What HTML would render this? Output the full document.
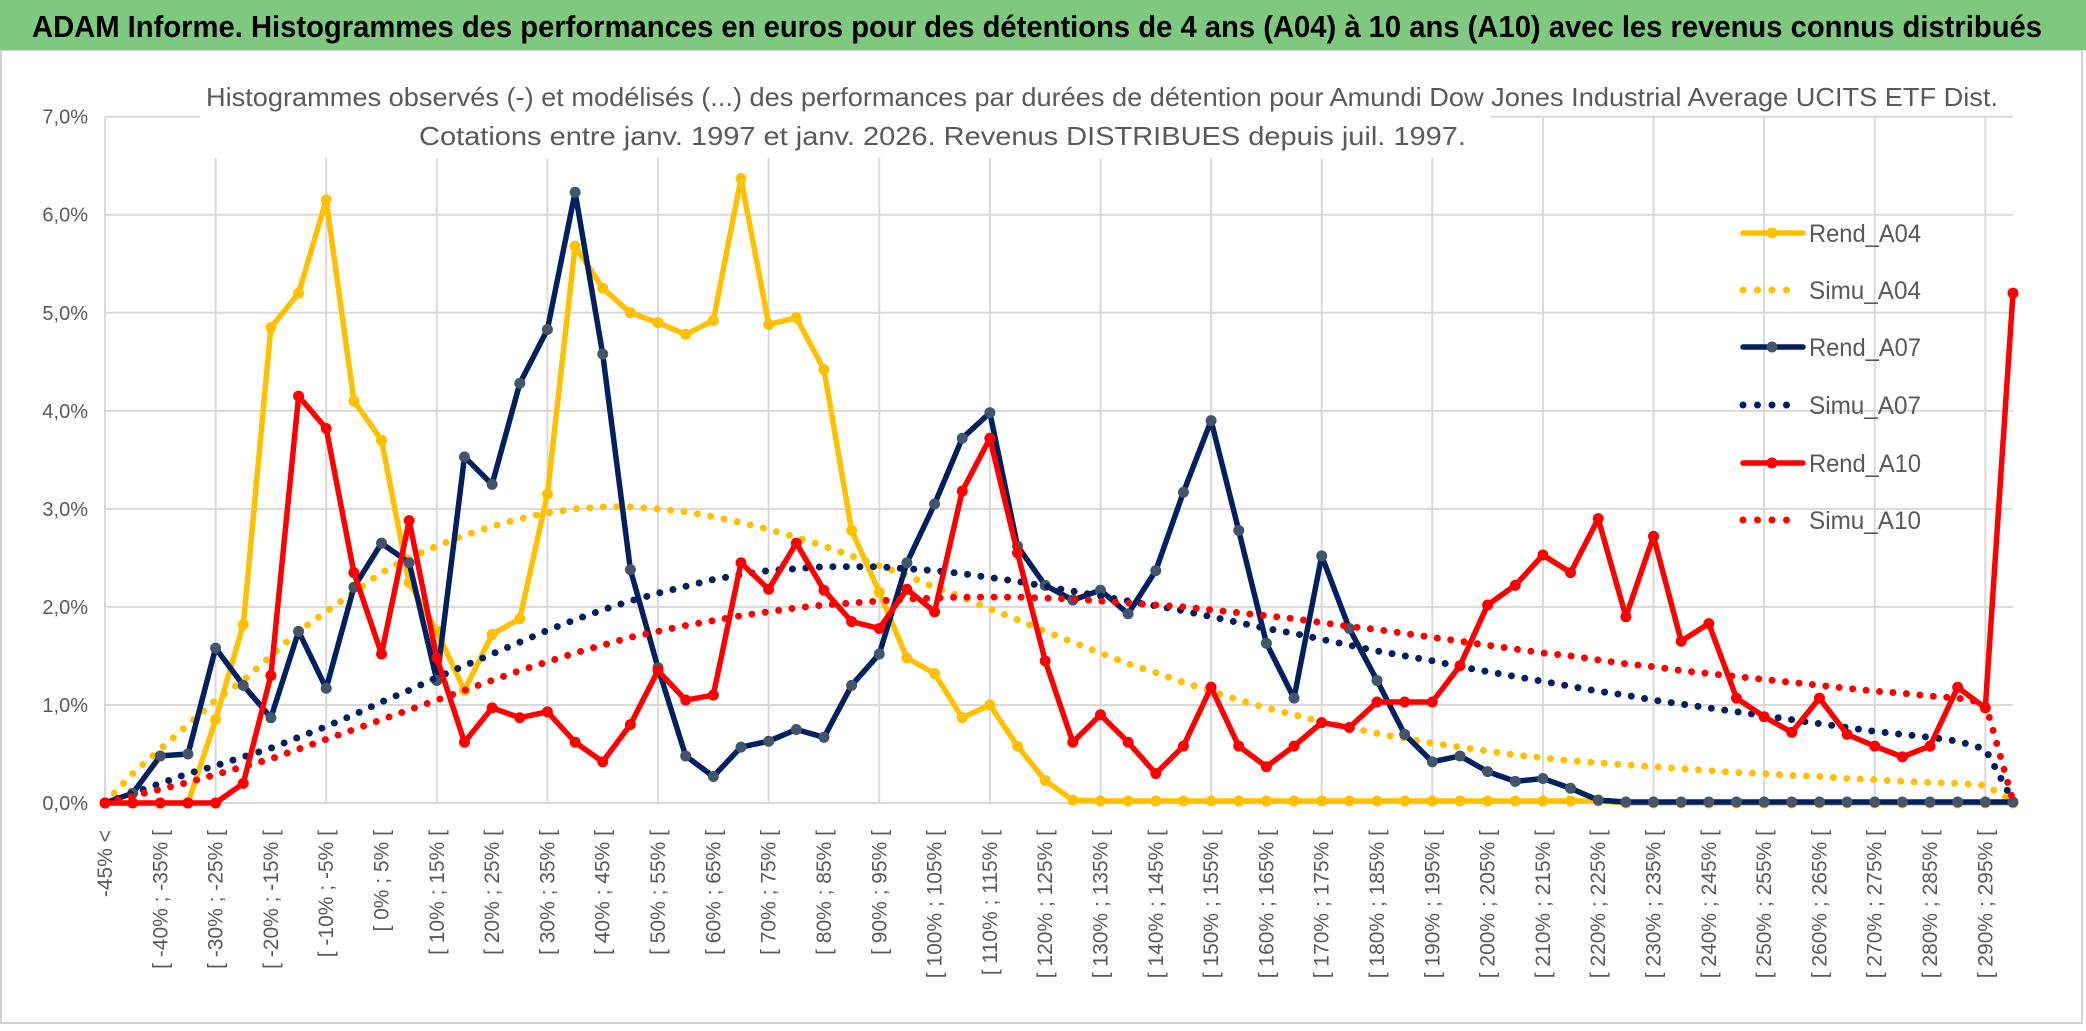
<!DOCTYPE html>
<html><head><meta charset="utf-8"><style>
html,body{margin:0;padding:0;background:#fff;}
svg{display:block;font-family:"Liberation Sans",sans-serif;}
</style></head><body>
<svg id="chart" width="2086" height="1031" viewBox="0 0 2086 1031" xmlns="http://www.w3.org/2000/svg">
<rect x="0" y="0" width="2086" height="1031" fill="#fff"/>
<rect x="1" y="50" width="2081" height="973" fill="none" stroke="#d0d0d0" stroke-width="2"/>
<rect x="0" y="0" width="2086" height="50" fill="#7ec97f"/>
<text x="32" y="37" font-size="31" font-weight="bold" fill="#000" textLength="2010" lengthAdjust="spacingAndGlyphs">ADAM Informe. Histogrammes des performances en euros pour des détentions de 4 ans (A04) à 10 ans (A10) avec les revenus connus distribués</text>
<g id="grid"></g>
<rect x="200" y="80" width="1290" height="78" fill="#fff"/>
<text x="206" y="106" font-size="26" fill="#595959" textLength="1792" lengthAdjust="spacingAndGlyphs">Histogrammes observés (-) et modélisés (...) des performances par durées de détention pour Amundi Dow Jones Industrial Average UCITS ETF Dist.</text>
<text x="419" y="145" font-size="26" fill="#595959" textLength="1047" lengthAdjust="spacingAndGlyphs">Cotations entre janv. 1997 et janv. 2026. Revenus DISTRIBUES depuis juil. 1997.</text>
<g id="axes"></g>
<g id="series"></g>
<g id="legend"></g>
</svg>
<script>
const NS="http://www.w3.org/2000/svg";
const yTicks=[0,1,2,3,4,5,6,7];
const rendA04=[0,0,0,0,0.85,1.82,4.85,5.2,6.15,4.1,3.7,2.25,1.75,1.15,1.72,1.88,3.15,5.68,5.25,5.0,4.9,4.78,4.92,6.37,4.88,4.95,4.42,2.78,2.15,1.48,1.32,0.87,1.0,0.58,0.23,0.03,0.02,0.02,0.02,0.02,0.02,0.02,0.02,0.02,0.02,0.02,0.02,0.02,0.02,0.02,0.02,0.02,0.02,0.02,0.02,0,0,0,0,0,0,0,0,0,0,0,0,0,0,0];
const simuA04=[0,0.3,0.55,0.8,1.05,1.25,1.5,1.75,1.95,2.15,2.35,2.5,2.62,2.73,2.82,2.9,2.96,3.0,3.02,3.02,3.0,2.97,2.92,2.86,2.79,2.71,2.62,2.52,2.42,2.32,2.2,2.1,1.98,1.87,1.75,1.64,1.53,1.42,1.33,1.23,1.14,1.05,0.97,0.9,0.83,0.77,0.71,0.66,0.61,0.57,0.53,0.49,0.46,0.43,0.41,0.39,0.37,0.35,0.33,0.31,0.3,0.28,0.27,0.25,0.24,0.22,0.21,0.2,0.18,0.02];
const rendA07=[0,0.1,0.48,0.5,1.58,1.2,0.87,1.75,1.17,2.2,2.65,2.45,1.25,3.53,3.25,4.28,4.83,6.23,4.58,2.38,1.38,0.48,0.27,0.57,0.63,0.75,0.67,1.2,1.52,2.45,3.05,3.72,3.98,2.62,2.22,2.07,2.17,1.93,2.37,3.17,3.9,2.78,1.63,1.07,2.52,1.78,1.25,0.7,0.42,0.48,0.32,0.22,0.25,0.15,0.03,0.01,0.01,0.01,0.01,0.01,0.01,0.01,0.01,0.01,0.01,0.01,0.01,0.01,0.01,0.01];
const simuA07=[0,0.1,0.2,0.3,0.38,0.47,0.56,0.67,0.78,0.9,1.03,1.15,1.28,1.4,1.52,1.64,1.76,1.87,1.97,2.06,2.14,2.21,2.28,2.33,2.37,2.39,2.41,2.41,2.41,2.39,2.37,2.34,2.3,2.26,2.21,2.16,2.11,2.06,2.01,1.96,1.9,1.84,1.78,1.73,1.67,1.61,1.55,1.5,1.45,1.39,1.34,1.29,1.24,1.19,1.14,1.1,1.05,1.01,0.97,0.93,0.89,0.85,0.81,0.77,0.73,0.7,0.67,0.63,0.55,0.02];
const rendA10=[0,0,0,0,0,0.2,1.3,4.15,3.82,2.35,1.52,2.88,1.48,0.62,0.97,0.87,0.93,0.62,0.42,0.8,1.35,1.05,1.1,2.45,2.18,2.65,2.17,1.85,1.78,2.18,1.95,3.18,3.72,2.55,1.45,0.62,0.9,0.62,0.3,0.58,1.18,0.58,0.37,0.58,0.82,0.77,1.03,1.03,1.03,1.4,2.02,2.22,2.53,2.35,2.9,1.9,2.72,1.65,1.83,1.07,0.88,0.72,1.07,0.7,0.58,0.47,0.58,1.18,0.97,5.2];
const simuA10=[0,0.07,0.14,0.21,0.29,0.37,0.45,0.55,0.65,0.75,0.85,0.95,1.05,1.15,1.25,1.35,1.44,1.53,1.61,1.69,1.75,1.81,1.86,1.91,1.95,1.99,2.02,2.04,2.06,2.08,2.09,2.1,2.1,2.1,2.09,2.08,2.06,2.04,2.02,2.0,1.97,1.94,1.91,1.88,1.84,1.8,1.77,1.73,1.69,1.65,1.61,1.57,1.53,1.5,1.46,1.42,1.39,1.35,1.32,1.29,1.26,1.23,1.2,1.17,1.14,1.12,1.09,1.07,1.02,0.02];
const categories=["-45% <"];
for(let b=-45;b<300;b+=5){categories.push("[ "+b+"% ; "+(b+5)+"% [");}

const X0=105,X1=2013,Y0=803,Y7=116.7;
const step=(X1-X0)/(categories.length-1);
function xs(i){return X0+i*step;}
function ys(v){return Y0-(v/7)*(Y0-Y7);}
function el(tag,attrs,parent){const e=document.createElementNS(NS,tag);for(const k in attrs)e.setAttribute(k,attrs[k]);parent.appendChild(e);return e;}

const grid=document.getElementById('grid');
yTicks.forEach(t=>{
  const l=el('line',{x1:X0,x2:X1,y1:ys(t),y2:ys(t),stroke:'#d9d9d9','stroke-width':2},grid);
  
  
});
for(let i=4;i<categories.length;i+=4){
  const l=el('line',{x1:xs(i),x2:xs(i),y1:Y7,y2:Y0,stroke:'#d9d9d9','stroke-width':2},grid);
  
  
}
el('line',{x1:X0,x2:X0,y1:Y7,y2:Y0,stroke:'#d9d9d9','stroke-width':2},grid);

const axes=document.getElementById('axes');
yTicks.forEach(t=>{
  const tx=el('text',{x:88,y:ys(t)+7,'text-anchor':'end','font-size':20,fill:'#595959'},axes);
  tx.textContent=t.toFixed(1).replace('.',',')+'%';
  
  
});
categories.forEach((c,i)=>{
  if(i%2)return;
  const x=xs(i)+7,y=830;
  const tx=el('text',{x:x,y:y,'text-anchor':'end','font-size':21,fill:'#595959',transform:'rotate(-90 '+x+' '+y+')'},axes);
  tx.textContent=c;
  
  
});

const series=[
 {name:'Rend_A04',data:rendA04,color:'#ffc000',mk:'#ffc000',dot:false},
 {name:'Simu_A04',data:simuA04,color:'#ffc000',dot:true},
 {name:'Rend_A07',data:rendA07,color:'#002060',mk:'#44546a',dot:false},
 {name:'Simu_A07',data:simuA07,color:'#002060',dot:true},
 {name:'Rend_A10',data:rendA10,color:'#ff0000',mk:'#ff0000',dot:false},
 {name:'Simu_A10',data:simuA10,color:'#ff0000',dot:true}
];
const sg=document.getElementById('series');
series.forEach(s=>{
  const g=el('g',{},sg);
  
  
  const pts=s.data.map((v,i)=>xs(i).toFixed(1)+','+ys(v).toFixed(1)).join(' ');
  if(s.dot){
    const p=el('polyline',{points:pts,fill:'none',stroke:s.color,'stroke-width':7,'stroke-dasharray':'0 13.5','stroke-linecap':'round'},g);
    
    
  } else {
    const p=el('polyline',{points:pts,fill:'none',stroke:s.color,'stroke-width':5.5,'stroke-linejoin':'round'},g);
    
    
    s.data.forEach((v,i)=>{
      const c=el('circle',{cx:xs(i),cy:ys(v),r:5.5,fill:s.mk},g);
      
      
    });
  }
});

const lg=document.getElementById('legend');
const ly=[233,290,347,405,463,520];
series.forEach((s,k)=>{
  const g=el('g',{},lg);
  
  
  if(s.dot){
    el('line',{x1:1743,x2:1800,y1:ly[k],y2:ly[k],stroke:s.color,'stroke-width':7,'stroke-dasharray':'0 14.5','stroke-linecap':'round'},g);
  } else {
    el('line',{x1:1743,x2:1803,y1:ly[k],y2:ly[k],stroke:s.color,'stroke-width':5.5,'stroke-linecap':'round'},g);
    el('circle',{cx:1772,cy:ly[k],r:5.5,fill:s.mk},g);
  }
  const t=el('text',{x:1809,y:ly[k]+9,'font-size':25,fill:'#595959',textLength:112,lengthAdjust:'spacingAndGlyphs'},g);
  t.textContent=s.name;
});
</script>
</body></html>
